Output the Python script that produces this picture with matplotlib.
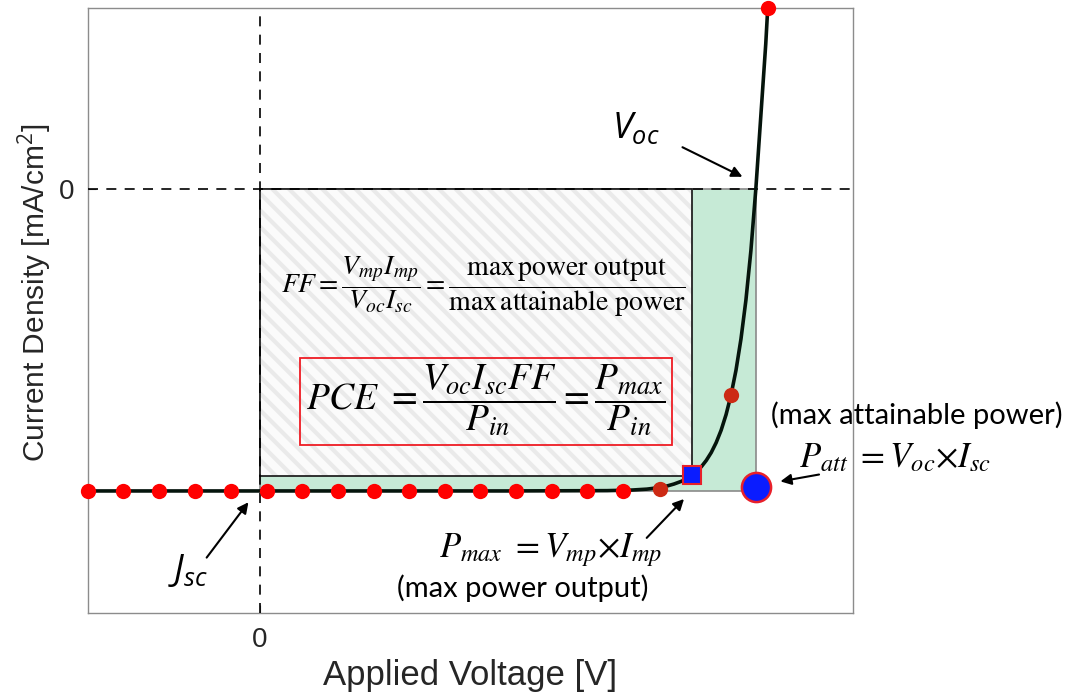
import matplotlib
matplotlib.use("Agg")
import matplotlib.pyplot as plt
from matplotlib.patches import Rectangle

# J-V curve of a solar cell (normalised: Voc = 1, Jsc = -1)
v_curve = [-0.347, 0.0, 0.5, 0.70, 0.75, 0.78, 0.80, 0.82, 0.835, 0.85, 0.86, 0.871,
           0.88, 0.89, 0.90, 0.91, 0.92, 0.93, 0.94, 0.95, 0.96, 0.97, 0.98, 0.99,
           1.00, 1.005, 1.01, 1.015, 1.02, 1.024]
j_curve = [-1.0, -1.0, -1.0, -0.999, -0.997, -0.994, -0.990, -0.984, -0.977, -0.968,
           -0.960, -0.948, -0.936, -0.920, -0.899, -0.873, -0.840, -0.799, -0.747,
           -0.682, -0.600, -0.497, -0.368, -0.205, 0.0, 0.12, 0.24, 0.36, 0.48, 0.599]

# measured points
v_dots = [-0.347, -0.276, -0.204, -0.131, -0.058, 0.014, 0.085, 0.157, 0.230, 0.300,
          0.373, 0.444, 0.516, 0.589, 0.659, 0.732, 0.806, 0.950, 1.024]
j_dots = [-1.0, -1.0, -1.0, -1.0, -1.0, -1.0, -1.0, -1.0, -1.0, -1.0,
          -1.0, -1.0, -1.0, -1.0, -1.0, -1.0, -0.993, -0.682, 0.599]

v_oc, j_sc = 1.0, -1.0
v_mp, j_mp = 0.871, -0.950
p_att_j = -0.987

plt.rcParams['mathtext.fontset'] = 'custom'
plt.rcParams['mathtext.it'] = 'Open Sans:italic'
plt.rcParams['mathtext.rm'] = 'Open Sans'
plt.rcParams['hatch.linewidth'] = 3.0

fig = plt.figure(figsize=(10.78, 6.98), dpi=100)
ax = fig.add_axes([0.0816, 0.1218, 0.7097, 0.8668])
ax.set_xlim(-0.347, 1.196)
ax.set_ylim(-1.404, 0.599)

# max attainable power rectangle (green) and max power rectangle (hatched)
ax.add_patch(Rectangle((0, j_sc), v_oc, -j_sc, facecolor='#c6ead6',
                       edgecolor='#8a8a8a', lw=1.2, zorder=1))
ax.add_patch(Rectangle((0, j_mp), v_mp, -j_mp, facecolor='#fbfbfb',
                       edgecolor='#eaeaea', hatch='\\\\', lw=0, zorder=2))
ax.add_patch(Rectangle((0, j_mp), v_mp, -j_mp, facecolor='none',
                       edgecolor='#222222', lw=1.3, zorder=3))

ax.axhline(0, color='black', ls=(0, (6, 5)), lw=1.2, zorder=4)
ax.axvline(0, color='black', ls=(0, (6, 5)), lw=1.2, zorder=4)

ax.plot(v_curve, j_curve, color='#05140c', lw=2.6, zorder=5)

dark = [16, 17]
for i, (v, j) in enumerate(zip(v_dots, j_dots)):
    c = '#cc2a14' if i in dark else '#ff0000'
    ax.plot(v, j, 'o', ms=11, color=c, mec='none', zorder=6, clip_on=False)

ax.plot(v_mp, j_mp + 0.003, 's', ms=13, mfc='#0a1cff', mec='#e8202a', mew=1.5, zorder=7)
ax.plot(v_oc, p_att_j, 'o', ms=21, mfc='#0a1cff', mec='#e8202a', mew=1.8, zorder=7,
        clip_on=False)

# axes styling
for s in ax.spines.values():
    s.set_color('#8c8c8c')
    s.set_linewidth(1.0)
ax.set_xticks([0])
ax.set_yticks([0])
ax.tick_params(direction='in', length=6, color='#555555', labelsize=20,
               labelcolor='#262626', pad=10)
for lab in ax.get_xticklabels() + ax.get_yticklabels():
    lab.set_family('Liberation Sans')
ax.set_xlabel('Applied Voltage [V]', fontsize=25, family='Liberation Sans',
              color='#262626')
ax.set_ylabel('Current Density [mA/cm$^2$]', fontsize=21.5, family='Liberation Sans',
              color='#262626')
ax.yaxis.set_label_coords(-0.045, 0.529)
ax.xaxis.set_label_coords(0.50, -0.076)

# annotations
ax.text(0.758, 0.202, r'$V_{oc}$', fontsize=26, ha='center', va='center')
ax.annotate('', xy=(0.978, 0.036), xytext=(0.847, 0.142),
            arrowprops=dict(arrowstyle='-|>', color='black', lw=1.5, mutation_scale=16))
ax.text(-0.145, -1.262, r'$J_{sc}$', fontsize=26, ha='center', va='center')
ax.annotate('', xy=(-0.020, -1.030), xytext=(-0.111, -1.228),
            arrowprops=dict(arrowstyle='-|>', color='black', lw=1.5, mutation_scale=16))

ax.text(0.585, -1.195, r'$P_{max}\ = V_{mp}{\times}I_{mp}$', fontsize=25,
        ha='center', va='center', math_fontfamily='stix')
ax.text(0.530, -1.321, '(max power output)', fontsize=21, family='Lato',
        ha='center', va='center')
ax.annotate('', xy=(0.859, -1.020), xytext=(0.776, -1.162),
            arrowprops=dict(arrowstyle='-|>', color='black', lw=1.5, mutation_scale=16))

ax.text(1.325, -0.748, '(max attainable power)', fontsize=21, family='Lato',
        ha='center', va='center', clip_on=False)
ax.text(1.280, -0.887, r'$P_{att}\ = V_{oc}{\times}I_{sc}$', fontsize=25,
        ha='center', va='center', math_fontfamily='stix', clip_on=False)
ax.annotate('', xy=(1.044, -0.970), xytext=(1.133, -0.944),
            arrowprops=dict(arrowstyle='-|>', color='black', lw=1.5, mutation_scale=16),
            annotation_clip=False)

ax.text(0.450, -0.325,
        r'$FF = \dfrac{V_{mp}I_{mp}}{V_{oc}I_{sc}} = '
        r'\dfrac{\mathrm{max\,power\ output}}{\mathrm{max\,attainable\ power}}$',
        fontsize=20, ha='center', va='center', math_fontfamily='stix', zorder=8)
ax.text(0.456, -0.699,
        r'$PCE\ = \dfrac{V_{oc}I_{sc}FF}{P_{in}} = \dfrac{P_{max}}{P_{in}}$',
        fontsize=27, ha='center', va='center', math_fontfamily='stix', zorder=8)
ax.add_patch(Rectangle((0.081, -0.848), 0.750, 0.288, facecolor='none',
                       edgecolor='#ee1c24', lw=1.3, zorder=8))

fig.savefig('out.png', dpi=100, facecolor='white')
